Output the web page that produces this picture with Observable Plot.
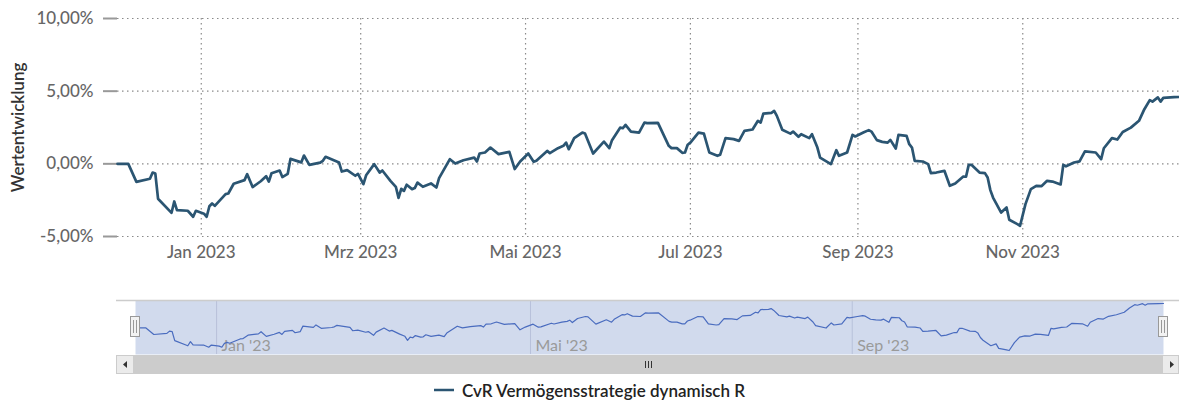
<!DOCTYPE html>
<html>
<head>
<meta charset="utf-8">
<script src="https://cdn.jsdelivr.net/npm/d3@7"></script>
<script src="https://cdn.jsdelivr.net/npm/@observablehq/plot@0.6"></script>
<style>
  html, body { margin: 0; padding: 0; background: #fff; }
  #wrap { position: relative; width: 1179px; height: 401px; overflow: hidden; font-family: Lato, "Open Sans", sans-serif; }
  #main { position: absolute; left: 0; top: 0; }
  #nav { position: absolute; left: 0; top: 296px; }
  #legend { position: absolute; left: 0; top: 380px; width: 1179px; height: 20px; display: flex; justify-content: center; align-items: center; }
  #legend span { font-size: 17px; font-weight: 600; color: #222; margin-left: 8px; }
</style>
</head>
<body>
<div id="wrap">
  <div id="main"></div>
  <div id="nav"></div>
  <div id="legend"><svg width="20" height="4"><line x1="0" x2="20" y1="2" y2="2" stroke="#2b5572" stroke-width="2.5"></line></svg><span id="legendText"></span></div>
</div>
<script>
const seriesName = "CvR Vermögensstrategie dynamisch R";
const axisTitle = "Wertentwicklung";

const dates = [
  "2022-12-01","2022-12-05","2022-12-08","2022-12-13","2022-12-14","2022-12-15","2022-12-16","2022-12-21","2022-12-22","2022-12-23",
  "2022-12-27","2022-12-29","2022-12-30","2023-01-02","2023-01-03","2023-01-04","2023-01-05","2023-01-06","2023-01-10","2023-01-11",
  "2023-01-13","2023-01-17","2023-01-18","2023-01-20","2023-01-23","2023-01-25","2023-01-26","2023-01-27","2023-01-30","2023-01-31",
  "2023-02-02","2023-02-03","2023-02-07","2023-02-08","2023-02-10","2023-02-14","2023-02-15","2023-02-16","2023-02-21","2023-02-22",
  "2023-02-24","2023-02-27","2023-02-28","2023-03-02","2023-03-03","2023-03-06","2023-03-08","2023-03-09","2023-03-12","2023-03-14",
  "2023-03-15","2023-03-16","2023-03-17","2023-03-18","2023-03-20","2023-03-21","2023-03-22","2023-03-24","2023-03-27","2023-03-29",
  "2023-03-30","2023-04-03","2023-04-05","2023-04-08","2023-04-12","2023-04-13","2023-04-14","2023-04-16","2023-04-18","2023-04-21",
  "2023-04-25","2023-04-27","2023-04-29","2023-05-02","2023-05-04","2023-05-05","2023-05-09","2023-05-10","2023-05-13","2023-05-15",
  "2023-05-16","2023-05-17","2023-05-19","2023-05-22","2023-05-23","2023-05-26","2023-05-30","2023-06-01","2023-06-02","2023-06-05",
  "2023-06-06","2023-06-07","2023-06-09","2023-06-12","2023-06-14","2023-06-15","2023-06-19","2023-06-23","2023-06-24","2023-06-26",
  "2023-06-28","2023-06-29","2023-06-30","2023-07-01","2023-07-04","2023-07-06","2023-07-08","2023-07-11","2023-07-12","2023-07-14",
  "2023-07-17","2023-07-19","2023-07-21","2023-07-24","2023-07-26","2023-07-27","2023-07-28","2023-07-31","2023-08-01","2023-08-02",
  "2023-08-04","2023-08-07","2023-08-08","2023-08-10","2023-08-11","2023-08-14","2023-08-15","2023-08-17","2023-08-18","2023-08-22",
  "2023-08-24","2023-08-25","2023-08-28","2023-08-30","2023-08-31","2023-09-03","2023-09-05","2023-09-06","2023-09-08","2023-09-10",
  "2023-09-12","2023-09-13","2023-09-15","2023-09-16","2023-09-19","2023-09-20","2023-09-21","2023-09-22","2023-09-25","2023-09-27",
  "2023-09-28","2023-09-30","2023-10-03","2023-10-05","2023-10-07","2023-10-10","2023-10-11","2023-10-12","2023-10-13","2023-10-16",
  "2023-10-18","2023-10-19","2023-10-20","2023-10-21","2023-10-24","2023-10-26","2023-10-27","2023-10-30","2023-10-31","2023-11-02",
  "2023-11-04","2023-11-06","2023-11-08","2023-11-10","2023-11-12","2023-11-15","2023-11-16","2023-11-17","2023-11-20","2023-11-22",
  "2023-11-24","2023-11-28","2023-11-30","2023-12-01","2023-12-04","2023-12-06","2023-12-08","2023-12-11","2023-12-14","2023-12-16",
  "2023-12-18","2023-12-19","2023-12-21","2023-12-22","2023-12-23","2023-12-27","2023-12-29"
];
const values = [
  0.00, 0.00, -1.24, -1.03, -0.60, -0.67, -2.40, -3.37, -2.59, -3.18,
  -3.23, -3.64, -3.23, -3.43, -3.64, -2.92, -2.73, -2.89, -2.08, -2.04,
  -1.37, -1.12, -0.71, -1.60, -1.20, -0.85, -1.22, -0.65, -0.46, -0.91,
  -0.69, 0.34, 0.10, 0.57, -0.07, 0.08, 0.21, 0.48, 0.09, -0.53,
  -0.43, -0.82, -0.69, -1.40, -0.79, -0.02, -0.60, -0.46, -1.17, -1.58,
  -2.34, -1.72, -1.86, -1.44, -1.74, -1.67, -1.29, -1.58, -1.35, -1.63,
  -0.98, 0.32, 0.02, 0.25, 0.43, 0.16, 0.71, 0.78, 1.12, 0.67,
  0.82, -0.36, 0.16, 0.71, 0.14, 0.21, 0.89, 0.74, 1.08, 1.24,
  1.46, 1.01, 1.77, 2.15, 2.08, 0.71, 1.53, 1.08, 1.63, 2.49,
  2.45, 2.68, 2.22, 2.15, 2.84, 2.80, 2.82, 1.24, 1.08, 1.08,
  0.76, 0.78, 1.31, 1.46, 2.15, 2.08, 0.78, 0.55, 0.62, 1.77,
  1.70, 1.58, 2.27, 2.36, 2.96, 2.84, 3.46, 3.51, 3.64, 3.30,
  2.34, 2.08, 2.22, 1.86, 2.04, 1.77, 2.04, 1.12, 0.43, -0.02,
  0.94, 0.55, 0.78, 1.99, 1.88, 2.15, 2.32, 2.22, 1.63, 1.51,
  1.46, 1.65, 1.05, 1.99, 1.92, 1.35, 1.12, 0.21, 0.16, -0.02,
  -0.64, -0.60, -0.48, -1.51, -1.35, -0.87, -0.89, -0.07, -0.07, -0.60,
  -0.64, -0.94, -1.81, -2.32, -3.35, -3.00, -3.85, -4.15, -4.26, -2.77,
  -1.74, -1.51, -1.53, -1.17, -1.22, -1.42, -0.07, -0.17, 0.09, 0.17,
  0.86, 0.78, 0.32, 1.07, 1.77, 1.67, 2.19, 2.49, 2.96, 3.76,
  4.38, 4.28, 4.57, 4.28, 4.54, 4.59, 4.60
];

const yTicks = [-5, 0, 5, 10];
const yTickLabels = ["-5,00%", "0,00%", "5,00%", "10,00%"];
const xTickDates = ["2023-01-01", "2023-03-01", "2023-05-01", "2023-07-01", "2023-09-01", "2023-11-01"];
const xTickLabels = ["Jan 2023", "Mrz 2023", "Mai 2023", "Jul 2023", "Sep 2023", "Nov 2023"];
const navTickDates = ["2023-01-01", "2023-05-01", "2023-09-01"];
const navTickLabels = ["Jan '23", "Mai '23", "Sep '23"];

const data = dates.map((d, i) => ({date: new Date(d), value: values[i]}));
const xDomain = [new Date("2022-12-01"), new Date("2023-12-29")];
const xTicks = xTickDates.map(d => new Date(d));
const navTicks = navTickDates.map(d => new Date(d));

const lineColor = "#2b5572";
const gridStyle = {stroke: "#8a8a8a", strokeOpacity: 1, strokeWidth: 1.2, strokeDasharray: "1.5,3.5"};

const main = Plot.plot({
  width: 1179, height: 266,
  marginLeft: 117, marginRight: 0, marginTop: 18, marginBottom: 30,
  style: {fontFamily: "Lato, 'Open Sans', sans-serif", overflow: "visible", background: "transparent"},
  x: {type: "utc", domain: xDomain, axis: null},
  y: {domain: [-5, 10], axis: null},
  marks: [
    Plot.gridY(yTicks, gridStyle),
    Plot.gridX(xTicks, gridStyle),
    Plot.axisY(yTicks, {
      tickSize: 14, tickPadding: 10, label: null,
      tickFormat: d => yTickLabels[yTicks.indexOf(d)],
      stroke: "#999", strokeWidth: 2, fill: "#666", fontSize: 17, fontWeight: 500
    }),
    Plot.axisX(xTicks, {
      tickSize: 0, tickPadding: 9, label: null,
      tickFormat: d => xTickLabels[xTicks.findIndex(t => +t === +d)],
      fill: "#666", fontSize: 17, fontWeight: 500
    }),
    Plot.lineY(data, {x: "date", y: "value", stroke: lineColor, strokeWidth: 2.7, strokeLinejoin: "round"}),
    Plot.text([axisTitle], {frameAnchor: "left", textAnchor: "middle", dx: -99, rotate: -90, fontSize: 17, fontWeight: 600, fill: "#333"})
  ]
});
document.getElementById("main").appendChild(main);

const nav = Plot.plot({
  width: 1179, height: 84,
  marginLeft: 135, marginRight: 16, marginTop: 4, marginBottom: 26,
  style: {fontFamily: "Lato, 'Open Sans', sans-serif", overflow: "visible", background: "transparent"},
  x: {type: "utc", domain: xDomain, axis: null},
  y: {domain: [-5.01, 5.17], axis: null},
  marks: [
    Plot.frame({fill: "rgba(102,133,194,0.3)", stroke: null}),
    Plot.ruleX(navTicks, {stroke: "#b8c1da", strokeWidth: 1}),
    Plot.text(navTicks, {x: d => d, text: (d, i) => navTickLabels[i], frameAnchor: "bottom", textAnchor: "start", lineAnchor: "bottom", dx: 5, dy: -4, fill: "#9a9a9a", fontSize: 16}),
    Plot.lineY(data, {x: "date", y: "value", stroke: "#4a6cbf", strokeWidth: 1.2})
  ]
});
document.getElementById("nav").appendChild(nav);

// navigator chrome (outline, scrollbar, handles)
const ns = d3.select(nav);
ns.append("line").attr("x1", 116).attr("x2", 1179).attr("y1", 4.5).attr("y2", 4.5).attr("stroke", "#cccccc").attr("stroke-width", 1.5);
const sb = ns.append("g");
sb.append("rect").attr("x", 116).attr("y", 59).attr("width", 1063).attr("height", 19).attr("fill", "#f2f2f2");
sb.append("rect").attr("x", 134).attr("y", 59).attr("width", 1029).attr("height", 19).attr("fill", "#cccccc");
sb.append("rect").attr("x", 116.5).attr("y", 59.5).attr("width", 17).attr("height", 18).attr("fill", "#ebebeb").attr("stroke", "#cccccc");
sb.append("rect").attr("x", 1162.5).attr("y", 59.5).attr("width", 16).attr("height", 18).attr("fill", "#ebebeb").attr("stroke", "#cccccc");
sb.append("path").attr("d", "M123,68.5 L127,65 L127,72 Z").attr("fill", "#333");
sb.append("path").attr("d", "M1174,68.5 L1170,65 L1170,72 Z").attr("fill", "#333");
for (const gx of [645.5, 648.5, 651.5]) {
  sb.append("line").attr("x1", gx).attr("x2", gx).attr("y1", 65).attr("y2", 72).attr("stroke", "#333").attr("stroke-width", 1);
}
for (const hx of [135, 1163]) {
  const h = ns.append("g");
  h.append("rect").attr("x", hx - 4.5).attr("y", 20.5).attr("width", 9).attr("height", 20).attr("fill", "#f2f2f2").attr("stroke", "#999");
  h.append("line").attr("x1", hx - 1.5).attr("x2", hx - 1.5).attr("y1", 24).attr("y2", 37).attr("stroke", "#999");
  h.append("line").attr("x1", hx + 1.5).attr("x2", hx + 1.5).attr("y1", 24).attr("y2", 37).attr("stroke", "#999");
}

document.getElementById("legendText").textContent = seriesName;
</script>
</body>
</html>
